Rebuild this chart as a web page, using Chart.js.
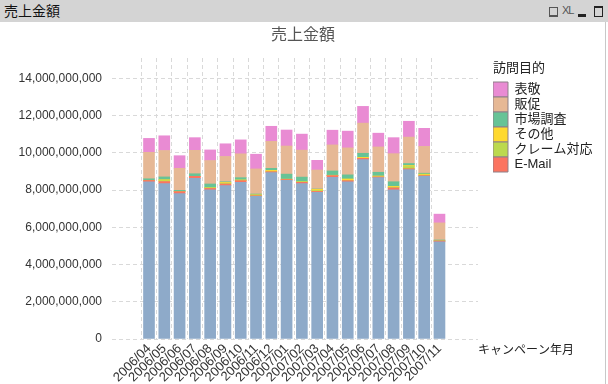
<!DOCTYPE html>
<html>
<head>
<meta charset="utf-8">
<script src="https://cdn.jsdelivr.net/npm/chart.js@4"></script>
<style>
body { margin: 0; width: 608px; height: 384px; overflow: hidden; background: #fff;
       font-family: "Liberation Sans", "Noto Sans CJK JP", sans-serif; }
#header { position: absolute; left: 0; top: 0; width: 608px; height: 22px; background: #d4d4d4; }
#header .ttl { position: absolute; left: 4px; top: 1px; font-size: 14px; line-height: 20px; color: #111; }
#header .xl { position: absolute; left: 562px; top: 4px; font-size: 11px; line-height: 13px; color: #555; letter-spacing: -1px; }
#prn { position: absolute; left: 549px; top: 7px; width: 7px; height: 7px; border: 1px solid #555; border-bottom-width: 2px; }
#min { position: absolute; left: 578px; top: 14px; width: 8px; height: 3px; background: #222; }
#max { position: absolute; left: 594px; top: 6px; width: 7px; height: 8px; border: 1px solid #222; border-top-width: 2px; }
#chart { position: absolute; left: 0; top: 22px; }
#edge { position: absolute; left: 605px; top: 22px; width: 1px; height: 362px; background: #c8c8c8; }
</style>
</head>
<body>
<div id="header">
  <span class="ttl">売上金額</span>
  <div id="prn"></div>
  <span class="xl">XL</span>
  <div id="min"></div>
  <div id="max"></div>
</div>
<canvas id="chart" width="600" height="362"></canvas>
<div id="edge"></div>
<script>
// キャンペーン年月
const months = ['2006/04', '2006/05', '2006/06', '2006/07', '2006/08', '2006/09', '2006/10',
    '2006/11', '2006/12', '2007/01', '2007/02', '2007/03', '2007/04', '2007/05', '2007/06',
    '2007/07', '2007/08', '2007/09', '2007/10', '2007/11'];

// 売上金額 (10億円単位)
const baseSales = [8.45, 8.35, 7.81, 8.63, 8.02, 8.24, 8.42, 7.66, 8.94, 8.52,
    8.35, 7.88, 8.69, 8.44, 9.64, 8.67, 8.01, 9.10, 8.74, 5.22];
const eMail = [0.07, 0.11, 0.11, 0.11, 0.07, 0.09, 0.09, 0.04, 0.05, 0.05,
    0.07, 0.05, 0.09, 0.07, 0.07, 0.04, 0.11, 0.05, 0.04, 0.05];
const claims = [0, 0.05, 0, 0, 0.04, 0.03, 0, 0, 0, 0,
    0.03, 0.05, 0, 0, 0, 0, 0.03, 0.12, 0.03, 0];
const others = [0, 0.05, 0, 0, 0, 0.05, 0.04, 0.05, 0.07, 0.02,
    0, 0.06, 0.02, 0.09, 0.05, 0.05, 0.05, 0.05, 0.05, 0];
const research = [0.09, 0.15, 0.07, 0.14, 0.20, 0.04, 0.12, 0.04, 0.11, 0.27,
    0.25, 0.02, 0.23, 0.22, 0.22, 0.20, 0.25, 0.11, 0.05, 0.05];
const promotion = [1.42, 1.42, 1.18, 1.26, 1.26, 1.36, 1.28, 1.35, 1.45, 1.51,
    1.45, 1.02, 1.40, 1.45, 1.62, 1.36, 1.51, 1.42, 1.44, 0.92];
const courtesy = [0.75, 0.79, 0.68, 0.68, 0.57, 0.68, 0.75, 0.79, 0.81, 0.86,
    0.86, 0.52, 0.79, 0.90, 0.90, 0.74, 0.86, 0.85, 0.97, 0.47];

const seriesNames = ['訪問', 'E-Mail', 'クレーム対応', 'その他', '市場調査', '販促', '表敬'];
const seriesValues = [baseSales, eMail, claims, others, research, promotion, courtesy];
const seriesColors = ['#8eaac9', '#fb7460', '#bcd94e', '#ffd92f', '#67c396', '#e6b895', '#e98bd3'];

const fontFamily = '"Liberation Sans", "Noto Sans CJK JP", sans-serif';
const gridColor = '#d9d9d9';

// y values stay in billions, the tick labels put the zeros back
const datasets = seriesNames.map((name, s) => ({
    label: name,
    data: seriesValues[s].map((v, i) => ({ x: i, y: v })),
    backgroundColor: seriesColors[s],
    borderWidth: 0,
    barThickness: 11
}));

const extras = {
    id: 'extras',
    afterLayout(chart) {
        // legend sits a little to the right of the plot
        chart.legend.left += 15;
        chart.legend.right += 15;
    },
    afterDraw(chart) {
        const ctx = chart.ctx;
        ctx.save();
        ctx.font = '12px "Noto Sans CJK JP"';
        ctx.fillStyle = '#222';
        ctx.textBaseline = 'middle';
        ctx.fillText('キャンペーン年月', chart.chartArea.right, chart.chartArea.bottom + 10);
        ctx.restore();
    }
};

new Chart(document.getElementById('chart'), {
    type: 'bar',
    data: { datasets: datasets },
    options: {
        responsive: false,
        animation: false,
        layout: { padding: { left: 18.6, right: 12.5, top: 0, bottom: 0 } },
        scales: {
            x: {
                type: 'linear',
                stacked: true,
                min: -1.9,
                max: 21,
                afterFit: axis => { axis.height = 45; },
                grid: {
                    drawTicks: false,
                    color: c => (c.tick && Number.isInteger(c.tick.value) && c.tick.value >= 0 &&
                        c.tick.value < months.length) ? gridColor : 'rgba(0,0,0,0)'
                },
                border: { display: false, dash: [4, 3] },
                ticks: {
                    stepSize: 1,
                    includeBounds: false,
                    autoSkip: false,
                    minRotation: 45,
                    maxRotation: 45,
                    padding: 2,
                    color: '#333',
                    font: { size: 13, family: fontFamily },
                    callback: v => months[v] ?? ''
                }
            },
            y: {
                stacked: true,
                min: 0,
                max: 15.1,
                afterFit: axis => { axis.width = 93.4; },
                grid: { drawTicks: false, color: gridColor },
                border: { display: false, dash: [4, 3] },
                ticks: {
                    stepSize: 2,
                    includeBounds: false,
                    padding: 10,
                    color: '#333',
                    font: { size: 12, family: fontFamily },
                    callback: v => (Math.round(v * 1e9)).toLocaleString('en-US')
                }
            }
        },
        plugins: {
            title: {
                display: true,
                text: '売上金額',
                color: '#555',
                font: { size: 16, family: fontFamily, weight: 'normal' },
                padding: { top: 4.4, bottom: 12.4 }
            },
            legend: {
                position: 'right',
                align: 'start',
                fullSize: false,
                reverse: true,
                title: {
                    display: true,
                    text: '訪問目的',
                    position: 'start',
                    color: '#222',
                    font: { size: 13, family: fontFamily },
                    padding: { top: 4, bottom: 4.4 }
                },
                labels: {
                    boxWidth: 15,
                    boxHeight: 15,
                    padding: 0,
                    color: '#222',
                    font: { size: 13, family: fontFamily },
                    filter: item => item.datasetIndex > 0,
                    generateLabels: chart => Chart.defaults.plugins.legend.labels.generateLabels(chart)
                        .map(item => Object.assign(item, { strokeStyle: '#8e8089', lineWidth: 1 }))
                }
            },
            tooltip: { enabled: false }
        }
    },
    plugins: [extras]
});
</script>
</body>
</html>
